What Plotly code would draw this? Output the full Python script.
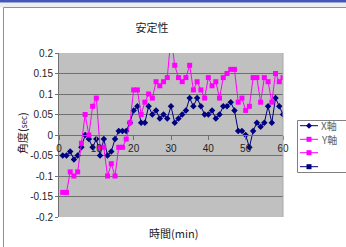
import plotly.graph_objects as go

minutes = [1, 2, 3, 4, 5, 6, 7, 8, 9, 10, 11, 12, 13, 14, 15, 16, 17, 18, 19, 20,
           21, 22, 23, 24, 25, 26, 27, 28, 29, 30, 31, 32, 33, 34, 35, 36, 37, 38, 39, 40,
           41, 42, 43, 44, 45, 46, 47, 48, 49, 50, 51, 52, 53, 54, 55, 56, 57, 58, 59, 60]

x_axis_vals = [-0.05, -0.05, -0.04, -0.06, -0.05, -0.03, 0.00, -0.01, -0.03, -0.01,
               -0.05, -0.01, -0.05, -0.04, -0.01, 0.01, 0.01, 0.01, 0.03, 0.06,
               0.07, 0.03, 0.03, 0.07, 0.05, 0.06, 0.04, 0.05, 0.04, 0.07,
               0.03, 0.04, 0.05, 0.06, 0.09, 0.07, 0.09, 0.07, 0.05, 0.05,
               0.06, 0.04, 0.05, 0.07, 0.07, 0.08, 0.06, 0.01, 0.01, 0.00,
               -0.03, 0.01, 0.03, 0.02, 0.03, 0.07, 0.03, 0.09, 0.07, 0.05]

y_axis_vals = [-0.14, -0.14, -0.09, -0.10, -0.09, -0.02, 0.05, 0.00, 0.07, 0.09,
               -0.03, -0.03, -0.10, -0.07, -0.10, -0.03, -0.03, -0.01, 0.03, 0.11,
               0.11, 0.05, 0.08, 0.10, 0.09, 0.13, 0.12, 0.13, 0.14, 0.24,
               0.17, 0.14, 0.13, 0.14, 0.17, 0.11, 0.13, 0.11, 0.09, 0.14,
               0.12, 0.13, 0.09, 0.14, 0.15, 0.16, 0.16, 0.08, 0.09, 0.06,
               0.07, 0.14, 0.14, 0.08, 0.14, 0.13, 0.08, 0.15, 0.13, 0.14]

series_names = ["X軸", "Y軸", "", ""]
x_ticks = [0, 10, 20, 30, 40, 50, 60]
x_ticklabels = ["0", "10", "20", "30", "40", "50", "60"]
y_ticks = [-0.2, -0.15, -0.1, -0.05, 0, 0.05, 0.1, 0.15, 0.2]
y_ticklabels = ["-0.2", "-0.15", "-0.1", "-0.05", "0", "0.05", "0.1", "0.15", "0.2"]

title_text = "安定性"
x_title = "時間(min)"
y_title = "角度(<span style='font-size:8px'>sec</span>)"

NAVY = "#000080"
MAG = "#FF00FF"
CJK = "Noto Sans CJK JP"

# legend entry styles: (color, symbol)
legend_styles = [(NAVY, "diamond"), (MAG, "square"), (MAG, "square"), (NAVY, "square")]

fig = go.Figure()
fig.add_trace(go.Scatter(x=minutes, y=x_axis_vals, name=series_names[0], mode="lines+markers",
                         line=dict(color=NAVY, width=1), showlegend=False,
                         marker=dict(symbol="diamond", size=5, color=NAVY)))
fig.add_trace(go.Scatter(x=minutes, y=y_axis_vals, name=series_names[1], mode="lines+markers",
                         line=dict(color=MAG, width=1), showlegend=False,
                         marker=dict(symbol="square", size=5, color=MAG)))

W, H = 346, 247
L, R, T, B = 59, 63, 53, 30
pw, ph = W - L - R, H - T - B


def px(xp):
    return (xp - L) / pw


def py(yp):
    return (H - B - yp) / ph


shapes = [
    dict(type="rect", xref="paper", yref="paper", x0=px(0), x1=px(W), y0=py(2.5), y1=py(0),
         fillcolor="#4457B8", line=dict(width=0), layer="above"),
    dict(type="rect", xref="paper", yref="paper", x0=px(0), x1=px(W), y0=py(7.5), y1=py(2.5),
         fillcolor="#EEEEEE", line=dict(width=0), layer="below"),
    dict(type="line", xref="paper", yref="paper", x0=px(3.5), x1=px(W), y0=py(7.5), y1=py(7.5),
         line=dict(color="#909090", width=1)),
    dict(type="line", xref="paper", yref="paper", x0=px(3.5), x1=px(3.5), y0=py(7.5), y1=py(H),
         line=dict(color="#909090", width=1)),
    dict(type="line", xref="paper", yref="paper", x0=1, x1=1, y0=0, y1=1,
         line=dict(color="#A8A8A8", width=1)),
    # legend box
    dict(type="rect", xref="paper", yref="paper", x0=px(297.5), x1=px(W + 5),
         y0=py(172.5), y1=py(120.5), fillcolor="white", line=dict(color="#808080", width=1)),
]

annotations = [
    dict(text=x_title, xref="paper", yref="paper", x=px(173), y=py(233),
         xanchor="center", yanchor="middle", showarrow=False,
         font=dict(family=CJK, size=11, color="#222")),
    dict(text=y_title, xref="paper", yref="paper", x=px(22), y=py(133),
         xanchor="center", yanchor="middle", showarrow=False, textangle=-90,
         font=dict(family=CJK, size=11, color="#222")),
]

# manual compact legend (Excel style)
entry_y = [125.7, 139.3, 152.7, 166.7]
for name, (col, sym), ey in zip(series_names, legend_styles, entry_y):
    shapes.append(dict(type="line", xref="paper", yref="paper", x0=px(300), x1=px(318),
                       y0=py(ey), y1=py(ey), line=dict(color=col, width=1)))
    cx = 309
    if sym == "square":
        shapes.append(dict(type="rect", xref="paper", yref="paper",
                           x0=px(cx - 2.5), x1=px(cx + 2.5), y0=py(ey + 2.5), y1=py(ey - 2.5),
                           fillcolor=col, line=dict(width=0)))
    else:
        shapes.append(dict(type="path", xref="paper", yref="paper",
                           path=(f"M {px(cx - 3)} {py(ey)} L {px(cx)} {py(ey - 3)} "
                                 f"L {px(cx + 3)} {py(ey)} L {px(cx)} {py(ey + 3)} Z"),
                           fillcolor=col, line=dict(width=0)))
    if name:
        annotations.append(dict(text=name, xref="paper", yref="paper", x=px(319), y=py(ey),
                                xanchor="left", yanchor="middle", showarrow=False,
                                font=dict(family=CJK, size=10, color="#666")))

fig.update_layout(
    width=W, height=H,
    margin=dict(l=L, r=R, t=T, b=B, autoexpand=False),
    paper_bgcolor="white",
    plot_bgcolor="#C0C0C0",
    showlegend=False,
    title=dict(text=title_text, x=152 / W, y=1 - 28 / H, xanchor="center", yanchor="middle",
               font=dict(family=CJK, size=11, color="#222")),
    xaxis=dict(range=[0, 60], tickvals=x_ticks, ticktext=x_ticklabels,
               anchor="free", position=0.5, side="bottom", ticklabelposition="outside",
               showgrid=False, zeroline=False,
               showline=True, linecolor="#707070", linewidth=1,
               ticks="outside", ticklen=4, tickcolor="#707070",
               tickfont=dict(family="Liberation Sans", size=10, color="#222")),
    yaxis=dict(range=[-0.2, 0.2], tickvals=y_ticks, ticktext=y_ticklabels,
               showgrid=True, gridcolor="#707070", gridwidth=1, zeroline=False,
               showline=True, linecolor="#707070", linewidth=1,
               ticks="outside", ticklen=3, tickcolor="#707070",
               tickfont=dict(family="Liberation Sans", size=10, color="#222")),
    shapes=shapes,
    annotations=annotations,
)

fig.write_html("out.html", config={"displayModeBar": False},
               post_script="document.body.style.margin='0';")
